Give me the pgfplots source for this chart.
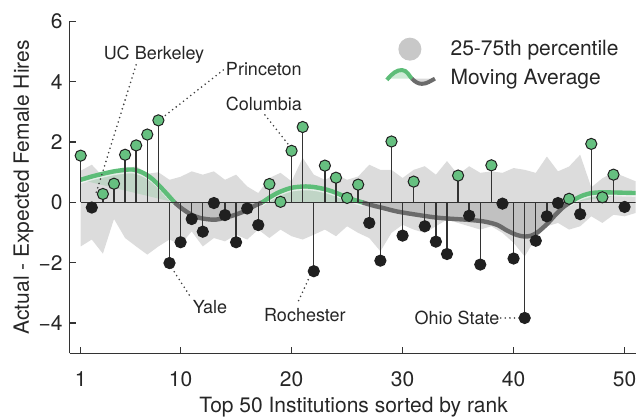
\documentclass[border=0pt]{standalone}
\usepackage{fontspec}
\setmainfont{TeX Gyre Heros}
\usepackage{pgfplots}
\pgfplotsset{compat=1.18}
\usepackage{pgfplotstable}
\usepgfplotslibrary{fillbetween}

\definecolor{ptgreen}{HTML}{66C080}
\definecolor{lngreen}{HTML}{5DBD78}
\definecolor{ptblack}{HTML}{202020}
\definecolor{stem}{HTML}{333333}
\definecolor{band}{HTML}{DCDCDC}
\definecolor{lngray}{HTML}{6B6B6B}
\definecolor{legcirc}{HTML}{C8C8C8}
\definecolor{axisgray}{HTML}{333333}

% rank, actual - expected (above zero)
\pgfplotstableread{
x y
1 1.55
3 0.28
4 0.62
5 1.58
6 1.89
7 2.25
8 2.72
18 0.61
19 0.02
20 1.71
21 2.50
23 1.22
24 0.82
25 0.15
26 0.59
29 2.02
31 0.69
35 0.89
38 1.23
45 0.12
47 1.94
48 0.17
49 0.92
}\above

% below zero
\pgfplotstableread{
x y
2 -0.17
9 -2.01
10 -1.32
11 -0.55
12 -0.97
13 -0.02
14 -0.42
15 -1.32
16 -0.20
17 -0.75
22 -2.28
27 -0.68
28 -1.93
30 -1.10
32 -0.79
33 -1.30
34 -1.71
36 -0.44
37 -2.06
39 -0.04
40 -1.86
41 -3.83
42 -1.27
43 -0.46
44 -0.02
46 -0.39
50 -0.15
}\below

% 25-75th percentile band
\pgfplotstableread{
x hi lo
1 1.05 -1.46
2 1.25 -1.23
3 0.86 -1.70
4 1.00 -0.55
5 1.10 -1.18
6 1.20 -1.46
7 0.95 -1.73
8 1.00 -1.46
9 0.75 -1.23
10 0.85 -1.40
11 1.03 -0.96
12 0.92 -1.46
13 1.03 -1.18
14 0.75 -1.29
15 0.92 -1.07
16 0.53 -1.23
17 0.31 -0.90
18 0.81 -1.18
19 0.98 -0.90
20 0.70 -1.12
21 1.48 -1.23
22 0.92 -1.07
23 0.75 -0.90
24 0.92 -1.12
25 0.75 -0.79
26 0.86 -1.01
27 1.25 -1.18
28 1.08 -1.62
29 1.08 -1.01
30 0.81 -0.74
31 1.08 -0.90
32 1.20 -1.01
33 0.92 -0.79
34 1.37 -0.57
35 0.92 -0.68
36 1.20 -0.79
37 0.98 -0.90
38 1.03 -0.79
39 0.98 -1.01
40 1.14 -1.34
41 1.08 -1.79
42 0.98 -1.18
43 1.52 -0.79
44 1.03 -0.68
45 1.19 -0.90
46 1.58 -0.79
47 0.50 -0.46
48 0.80 -0.68
49 1.00 -0.41
50 0.85 -0.46
51 0.70 -0.35
}\band

% moving average, split at the zero crossings
\pgfplotstableread{
x y
1 0.75
2 0.86
3 0.95
4 1.03
5 1.08
5.7 1.09
6.5 1.00
7.2 0.85
7.8 0.66
8.7 0.31
9.45 0
}\maA
\pgfplotstableread{
x y
9.45 0
10 -0.17
10.5 -0.30
11 -0.41
11.7 -0.51
12.5 -0.56
13.2 -0.57
14.2 -0.49
15 -0.40
15.7 -0.30
16.3 -0.18
16.9 -0.07
17.35 0
}\maB
\pgfplotstableread{
x y
17.35 0
18 0.16
18.7 0.31
19.5 0.43
20.2 0.50
21.3 0.53
22.2 0.50
23.2 0.42
24 0.32
24.7 0.21
25.5 0.10
26.4 0
}\maC
\pgfplotstableread{
x y
26.4 0
27.3 -0.10
28.3 -0.19
29.5 -0.30
31.3 -0.41
33 -0.50
34.3 -0.54
36 -0.58
37.3 -0.63
38.5 -0.74
39.4 -0.93
40.3 -1.08
41 -1.13
41.6 -1.10
42.2 -0.98
43 -0.72
43.8 -0.40
44.5 -0.15
45.1 0
}\maD
\pgfplotstableread{
x y
45.1 0
45.7 0.14
46.3 0.24
47 0.31
47.5 0.33
49 0.33
50 0.32
51.1 0.31
}\maE

\begin{document}
\begin{tikzpicture}
\begin{axis}[
  scale only axis, width=283pt, height=165.9pt,
  xmin=0, xmax=51, ymin=-5, ymax=6,
  axis lines*=left,
  axis line style={line width=0.65pt, color=axisgray},
  tick align=inside, major tick length=3pt,
  tick style={line width=0.65pt, color=axisgray},
  xtick={1,10,20,30,40,50}, ytick={-4,-2,0,2,4,6},
  yticklabels={−4,−2,0,2,4,6},
  /pgf/number format/assume math mode=true,
  ticklabel style={font=\fontsize{10.5}{12}\selectfont, text=black!85},
  xticklabel style={yshift=-5.7pt},
  label style={font=\fontsize{10.5}{12}\selectfont, text=black!85},
  xlabel={Top 50 Institutions sorted by rank},
  ylabel={Actual - Expected Female Hires},
  xlabel style={at={(axis description cs:0.5016,-0.18)}, anchor=base},
  ylabel style={at={(axis description cs:-0.0718,0.5)}, anchor=base},
  legend style={draw=none, fill=none, at={(0.557,0.872)}, anchor=west,
    inner sep=0pt, outer sep=0pt, row sep=3.25pt, column sep=6.85pt,
    nodes={inner sep=0pt}, cells={anchor=west},
    font=\fontsize{10.5}{12}\selectfont, text=black!85},
  legend cell align=left,
  ma/.style={smooth, tension=0.5},
]
\addlegendimage{legend image code/.code={
  \path[draw=none, fill=none] (0pt,-5.75pt) rectangle (24pt,5.75pt);
  \fill[legcirc, draw=none] (11.5pt,0pt) circle (5.75pt);}}
\addlegendentry{25-75th percentile}
\addlegendimage{legend image code/.code={
  \path[draw=none, fill=none] (0pt,-5.75pt) rectangle (24pt,5.75pt);
  \fill[lngreen!30, draw=none] (0pt,0pt) .. controls (3pt,3pt) and (5pt,4.3pt) .. (7.5pt,4.3pt)
     .. controls (10pt,4.3pt) and (11pt,1.5pt) .. (12.5pt,0pt) -- cycle;
  \fill[black!15, draw=none] (12.5pt,0pt) .. controls (14pt,-1.5pt) and (15.5pt,-2.6pt) .. (17.5pt,-2.6pt)
     .. controls (20pt,-2.6pt) and (22pt,-1pt) .. (24pt,0pt) -- cycle;
  \draw[lngreen, line width=2pt] (0pt,-0.6pt) .. controls (3pt,3pt) and (5pt,4.3pt) .. (7.5pt,4.3pt)
     .. controls (10pt,4.3pt) and (11pt,1.5pt) .. (12.5pt,0pt);
  \draw[lngray, line width=2pt] (12.5pt,0pt) .. controls (14pt,-1.5pt) and (15.5pt,-2.6pt) .. (17.5pt,-2.6pt)
     .. controls (20pt,-2.6pt) and (22pt,-1pt) .. (24pt,0pt);}}
\addlegendentry{Moving Average}

% percentile band
\addplot[name path=hi, draw=none, forget plot] table[x=x, y=hi] {\band};
\addplot[name path=lo, draw=none, forget plot] table[x=x, y=lo] {\band};
\addplot[band, forget plot] fill between[of=hi and lo];

% moving average fills
\addplot[ma, draw=none, fill=lngreen, fill opacity=0.22, forget plot] table {\maA} -- cycle;
\addplot[ma, draw=none, fill=black, fill opacity=0.12, forget plot] table {\maB} -- cycle;
\addplot[ma, draw=none, fill=lngreen, fill opacity=0.22, forget plot] table {\maC} -- cycle;
\addplot[ma, draw=none, fill=black, fill opacity=0.12, forget plot] table {\maD} -- cycle;
\addplot[ma, draw=none, fill=lngreen, fill opacity=0.22, forget plot] table {\maE} -- cycle;

% moving average lines
\addplot[ma, white, opacity=0.6, line width=0.8pt, yshift=-1.5pt, forget plot] table {\maA};
\addplot[ma, white, opacity=0.6, line width=0.8pt, yshift=-1.5pt, forget plot] table {\maC};
\addplot[ma, white, opacity=0.6, line width=0.8pt, yshift=-1.5pt, forget plot] table {\maE};
\addplot[ma, lngreen, line width=2.2pt, forget plot] table {\maA};
\addplot[ma, lngray, line width=2.2pt, forget plot] table {\maB};
\addplot[ma, lngreen, line width=2.2pt, forget plot] table {\maC};
\addplot[ma, lngray, line width=2.2pt, forget plot] table {\maD};
\addplot[ma, lngreen, line width=2.2pt, forget plot] table {\maE};

% zero line
\addplot[stem, line width=0.75pt, forget plot] coordinates {(1,0) (51,0)};

% stems and points
\addplot[ycomb, stem, line width=0.7pt, mark=*, mark size=2.8pt,
  mark options={fill=ptgreen, draw=ptblack, line width=0.5pt}, forget plot] table {\above};
\addplot[ycomb, stem, line width=0.7pt, mark=*, mark size=2.8pt,
  mark options={fill=ptblack, draw=ptblack, line width=0.5pt}, forget plot] table {\below};

% annotations
\tikzset{lead/.style={line width=0.9pt, color=black!75, line cap=round, dash pattern=on 0pt off 2.3pt}}
\draw[lead] (axis cs:5.99,4.56) -- (axis cs:2.29,0.2);
\draw[lead] (axis cs:13.85,4.39) -- (axis cs:8.3,2.79);
\draw[lead] (axis cs:17.6,2.90) -- (axis cs:19.86,1.85);
\draw[lead] (axis cs:9.2,-2.17) -- (axis cs:10.85,-3.11);
\draw[lead] (axis cs:21.5,-2.56) -- (axis cs:20.6,-3.28);
\draw[lead] (axis cs:38.84,-3.83) -- (axis cs:40.64,-3.83);
\tikzset{lab/.style={font=\fontsize{9}{11}\selectfont, text=black!85, inner sep=0pt}}
\node[lab] at (axis cs:7.6,4.89) {UC Berkeley};
\node[lab] at (axis cs:17.5,4.43) {Princeton};
\node[lab] at (axis cs:17.5,3.27) {Columbia};
\node[lab] at (axis cs:12.65,-3.47) {Yale};
\node[lab] at (axis cs:21.2,-3.75) {Rochester};
\node[lab] at (axis cs:34.9,-3.83) {Ohio State};

\coordinate (bbll) at (axis cs:-6.27,-7.08);
\coordinate (bbur) at (axis cs:51.3,6.71);
\end{axis}
\pgfresetboundingbox
\path[use as bounding box] (bbll) rectangle (bbur);
\end{tikzpicture}
\end{document}
